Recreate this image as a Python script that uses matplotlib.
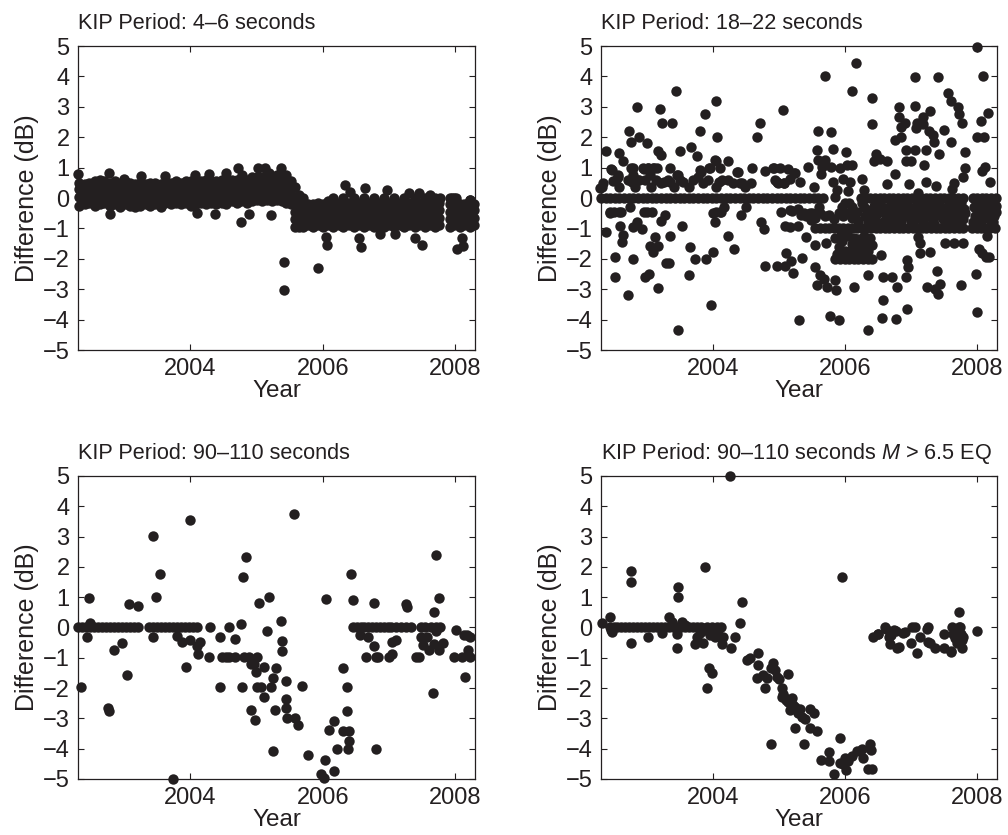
import matplotlib
matplotlib.use('Agg')
import matplotlib.pyplot as plt

plt.rcParams['font.family'] = ['Liberation Sans', 'DejaVu Sans']
plt.rcParams['mathtext.fontset'] = 'custom'
plt.rcParams['mathtext.rm'] = 'Liberation Sans'
plt.rcParams['mathtext.it'] = 'Liberation Sans:italic'

INK = '#231f20'

titles = ['KIP Period: 4\u20136 seconds',
          'KIP Period: 18\u201322 seconds',
          'KIP Period: 90\u2013110 seconds',
          'KIP Period: 90\u2013110 seconds $M$ > 6.5 EQ']
year_ticks = [2004, 2006, 2008]
db_ticks = [-5, -4, -3, -2, -1, 0, 1, 2, 3, 4, 5]

# ---------------- panel 1: 4-6 s (dense bands read column by column)
p1_band_x = [2002.32, 2002.40, 2002.47, 2002.55, 2002.63, 2002.70, 2002.78, 2002.86,
             2002.93, 2003.01, 2003.09, 2003.16, 2003.24, 2003.32, 2003.39, 2003.47,
             2003.55, 2003.62, 2003.70, 2003.78, 2003.85, 2003.93, 2004.01, 2004.08,
             2004.16, 2004.24, 2004.31, 2004.39, 2004.47, 2004.54, 2004.62, 2004.70,
             2004.77, 2004.85, 2004.93, 2005.00, 2005.08, 2005.16, 2005.23, 2005.31,
             2005.38, 2005.45, 2005.52, 2005.58, 2005.64]
p1_band_y = [[-0.25, 0.05, 0.3, 0.5], [-0.2, 0.0, 0.25, 0.45], [-0.15, 0.1, 0.35, 0.5],
             [-0.25, 0.0, 0.3, 0.55], [-0.2, 0.05, 0.3, 0.6], [-0.15, 0.1, 0.35, 0.55],
             [-0.25, 0.0, 0.25, 0.5], [-0.2, 0.05, 0.3, 0.55], [-0.3, -0.05, 0.2, 0.45],
             [-0.2, 0.05, 0.3, 0.55], [-0.25, 0.0, 0.25, 0.5], [-0.3, -0.05, 0.2, 0.45],
             [-0.25, 0.05, 0.3, 0.5], [-0.2, 0.0, 0.25, 0.45], [-0.25, 0.05, 0.3, 0.5],
             [-0.2, 0.05, 0.3, 0.5], [-0.3, 0.0, 0.25, 0.45], [-0.15, 0.1, 0.3, 0.5],
             [-0.2, 0.05, 0.3, 0.5], [-0.15, 0.1, 0.35, 0.55], [-0.2, 0.05, 0.3, 0.5],
             [-0.15, 0.1, 0.35, 0.55], [-0.25, 0.05, 0.3, 0.55], [-0.2, 0.1, 0.35, 0.6],
             [-0.15, 0.1, 0.35, 0.55], [-0.2, 0.05, 0.3, 0.6], [-0.15, 0.1, 0.35, 0.55],
             [-0.2, 0.05, 0.3, 0.55], [-0.15, 0.1, 0.35, 0.6], [-0.2, 0.05, 0.3, 0.55],
             [-0.1, 0.15, 0.4, 0.6], [-0.15, 0.1, 0.35, 0.6], [-0.1, 0.15, 0.4, 0.65],
             [-0.15, 0.1, 0.35, 0.6], [-0.1, 0.15, 0.4, 0.7], [-0.05, 0.2, 0.45, 0.7],
             [-0.1, 0.15, 0.4, 0.7], [-0.05, 0.2, 0.45, 0.75], [-0.1, 0.2, 0.45, 0.7],
             [-0.05, 0.2, 0.45, 0.75], [-0.1, 0.15, 0.4, 0.7], [-0.15, 0.1, 0.35, 0.6, 0.75],
             [-0.2, 0.05, 0.3, 0.55], [-0.95, -0.7, -0.45, -0.2, 0.05, 0.35],
             [-0.95, -0.7, -0.45, -0.2, 0.1]]
p1_low_x = [2005.70, 2005.78, 2005.85, 2005.93, 2006.01, 2006.08, 2006.16, 2006.24,
            2006.31, 2006.39, 2006.47, 2006.54, 2006.62, 2006.70, 2006.77, 2006.85,
            2006.93, 2007.00, 2007.08, 2007.16, 2007.23, 2007.31, 2007.39, 2007.46,
            2007.54, 2007.62, 2007.69, 2007.76, 2007.92, 2007.99, 2008.07, 2008.14,
            2008.22, 2008.29]
p1_low_y = [[-0.95, -0.7, -0.45, -0.2, 0.0], [-0.9, -0.65, -0.4, -0.2], [-0.95, -0.7, -0.45, -0.2],
            [-0.9, -0.65, -0.4, -0.15], [-0.95, -0.7, -0.45, -0.2], [-0.9, -0.65, -0.4, -0.1],
            [-0.95, -0.7, -0.45, -0.2, 0.0], [-0.9, -0.65, -0.4, -0.15], [-0.95, -0.7, -0.45, -0.2, 0.0],
            [-0.9, -0.65, -0.4, -0.15], [-0.95, -0.7, -0.45, -0.2, 0.0], [-0.9, -0.65, -0.4, -0.15],
            [-0.95, -0.7, -0.45, -0.2, 0.0], [-0.9, -0.65, -0.4, -0.15], [-0.95, -0.7, -0.45, -0.2, 0.0],
            [-0.9, -0.65, -0.4, -0.15], [-0.95, -0.7, -0.45, -0.2, 0.0], [-0.9, -0.65, -0.4, -0.15],
            [-0.95, -0.7, -0.45, -0.2, 0.0], [-0.9, -0.65, -0.4, -0.15], [-0.95, -0.7, -0.45, -0.2, 0.0],
            [-0.9, -0.65, -0.4, -0.15], [-0.95, -0.7, -0.45, -0.2, 0.0], [-0.9, -0.65, -0.4, -0.15],
            [-0.95, -0.7, -0.45, -0.2, 0.0], [-0.9, -0.65, -0.4, -0.15], [-0.95, -0.7, -0.45, -0.2, 0.0],
            [-0.9, -0.65, -0.4, -0.15], [-0.95, -0.7, -0.45, -0.2, 0.0], [-0.9, -0.65, -0.4, -0.2, 0.0],
            [-0.95, -0.7, -0.45, -0.2], [-0.9, -0.65, -0.4, -0.2], [-0.95, -0.7, -0.45, -0.2, -0.05],
            [-0.9, -0.65, -0.4, -0.2]]
p1_points = [(2002.30, 0.80), (2002.79, -0.53), (2002.77, 0.83), (2003.00, 0.62), (2003.25, 0.73),
             (2003.61, 0.73), (2004.07, 0.77), (2004.10, -0.50), (2004.28, 0.79), (2004.37, -0.54),
             (2004.54, 0.83), (2004.72, 1.00), (2004.77, -0.78), (2004.78, 0.76), (2004.88, -0.54),
             (2005.02, 1.00), (2005.12, 1.00), (2005.18, 0.82), (2005.22, -0.56), (2005.37, 1.00),
             (2005.42, -2.12), (2005.42, -3.02), (2005.93, -2.30), (2006.05, -1.28), (2006.07, -1.53),
             (2006.33, 0.43), (2006.41, 0.20), (2006.58, -1.60), (2006.55, -1.33), (2006.64, 0.32),
             (2006.87, -1.18), (2006.97, 0.26), (2007.09, -1.18), (2007.31, 0.17), (2007.40, -1.30),
             (2007.45, 0.17), (2007.50, -1.55), (2007.62, 0.10), (2007.77, 0.00), (2007.95, 0.00),
             (2008.01, 0.00), (2008.03, -1.68), (2008.11, -1.30), (2008.12, -1.58), (2008.22, -0.07)]

# ---------------- panel 2: 18-22 s
p2_zero_x = [2002.30, 2002.37, 2002.44, 2002.51, 2002.58, 2002.65, 2002.72, 2002.79, 2002.86,
             2002.93, 2003.00, 2003.07, 2003.14, 2003.21, 2003.28, 2003.35, 2003.42, 2003.49,
             2003.56, 2003.63, 2003.70, 2003.77, 2003.84, 2003.91, 2003.98, 2004.05, 2004.12,
             2004.19, 2004.26, 2004.33, 2004.40, 2004.47, 2004.54, 2004.61, 2004.68, 2004.75,
             2004.82, 2004.89, 2004.96, 2005.03, 2005.10, 2005.17, 2005.24, 2005.31, 2005.38,
             2005.45, 2005.52, 2005.59, 2005.66,
             2006.24, 2006.31, 2006.38, 2006.45, 2006.52, 2006.59, 2006.66, 2006.73, 2006.80,
             2006.87, 2006.94, 2007.01, 2007.08, 2007.15, 2007.22, 2007.29, 2007.36, 2007.43,
             2007.50, 2007.57, 2007.64, 2007.71, 2007.78, 2007.93, 2008.00, 2008.07, 2008.14,
             2008.21, 2008.28]
p2_minus1_x = [2005.55, 2005.62, 2005.69, 2005.76, 2005.83, 2005.90, 2005.97, 2006.04, 2006.11,
               2006.18, 2006.25, 2006.32, 2006.39, 2006.46, 2006.53, 2006.60, 2006.67, 2006.74,
               2006.81, 2006.88, 2006.95, 2007.02, 2007.09, 2007.16, 2007.23, 2007.30, 2007.37,
               2007.44, 2007.51, 2007.58, 2007.65, 2007.72, 2007.79, 2007.92, 2007.99, 2008.06,
               2008.13, 2008.20, 2008.27]
p2_minus2_x = [2005.85, 2005.92, 2005.99, 2006.06, 2006.13, 2006.20, 2006.27, 2006.34, 2006.41]
p2_points = [
    (2002.29, 0.32), (2002.33, 0.48), (2002.38, 1.55), (2002.37, -1.13), (2002.45, 0.94),
    (2002.44, -0.50), (2002.51, -2.59), (2002.52, -1.93), (2002.53, 0.59), (2002.56, 0.76),
    (2002.58, -0.45), (2002.58, 1.47), (2002.59, -0.92), (2002.63, 1.23), (2002.63, -1.22),
    (2002.62, -1.44), (2002.71, -3.19), (2002.72, 2.21), (2002.75, 1.85), (2002.74, -0.29),
    (2002.77, 0.54), (2002.79, 0.98), (2002.79, -0.94), (2002.79, -2.02), (2002.84, 2.98),
    (2002.85, -0.78), (2002.87, 2.02), (2002.87, 0.59), (2002.92, -1.03), (2002.95, -0.47),
    (2002.95, 0.94), (2002.96, -2.59), (2002.99, 1.80), (2003.01, 0.98), (2003.03, -2.50),
    (2003.05, -1.58), (2003.07, -0.47), (2003.09, -1.77), (2003.10, 0.98), (2003.12, -1.27),
    (2003.15, 0.98), (2003.16, -1.58), (2003.17, -2.95), (2003.17, 1.56), (2003.20, 2.92),
    (2003.21, 1.41), (2003.21, -0.75), (2003.23, 2.46), (2003.25, 0.54), (2003.27, -0.56),
    (2003.28, -2.15), (2003.33, -2.13), (2003.35, 0.54), (2003.35, 0.98), (2003.35, -1.24),
    (2003.37, 2.46), (2003.44, 3.53), (2003.45, 0.76), (2003.46, -4.34), (2003.49, 1.56),
    (2003.53, -0.92), (2003.55, 0.54), (2003.64, -2.53), (2003.65, -1.60), (2003.67, 1.67),
    (2003.72, -2.02), (2003.75, 1.39), (2003.80, 2.21), (2003.81, 0.87), (2003.87, 2.76),
    (2003.89, -2.02), (2003.92, 0.59), (2003.94, 0.98), (2003.97, -3.52), (2004.00, -1.79),
    (2004.00, -0.50), (2004.03, -0.78), (2004.05, 3.20), (2004.05, 1.22), (2004.06, 2.02),
    (2004.09, 0.54), (2004.11, 0.98), (2004.11, -0.45), (2004.16, -0.31), (2004.22, 1.23),
    (2004.22, -1.25), (2004.31, -1.69), (2004.36, 0.87), (2004.42, -0.56), (2004.43, 0.50),
    (2004.50, -0.29), (2004.57, 0.48), (2004.59, 0.98), (2004.66, 2.00), (2004.71, 2.46),
    (2004.72, -0.78), (2004.77, -1.03), (2004.78, -2.24), (2004.79, 0.90), (2004.92, 0.98),
    (2004.96, -2.24), (2004.97, 0.54), (2005.01, 0.98), (2005.03, -0.47), (2005.06, 2.89),
    (2005.07, 0.50), (2005.09, -2.24), (2005.09, -0.92), (2005.11, -1.82), (2005.13, 0.94),
    (2005.16, -0.94), (2005.18, -2.07), (2005.20, -0.42), (2005.21, -2.48), (2005.24, 0.81),
    (2005.28, -0.37), (2005.29, -0.92), (2005.30, -4.01), (2005.31, 0.54), (2005.35, -1.98),
    (2005.38, -0.50), (2005.41, -1.27), (2005.44, 1.03), (2005.48, -0.72), (2005.50, -0.50),
    (2005.53, 0.37), (2005.54, -2.26), (2005.55, -1.55), (2005.57, -2.86), (2005.58, 1.58),
    (2005.59, 2.21), (2005.59, 1.25), (2005.62, -2.53), (2005.63, 0.79), (2005.65, 1.03),
    (2005.68, -2.66), (2005.70, 4.01), (2005.70, 1.25), (2005.71, -1.47), (2005.73, -2.94),
    (2005.77, -3.88), (2005.78, 1.03), (2005.79, 2.18), (2005.81, 1.61), (2005.82, 0.54),
    (2005.84, 0.02), (2005.84, -2.70), (2005.86, -3.03), (2005.88, 0.26), (2005.90, -4.01),
    (2005.92, 0.98), (2005.97, 0.62), (2005.99, -0.18), (2006.01, 1.52), (2006.03, 1.09),
    (2006.04, 0.24), (2006.06, -0.18), (2006.08, 0.54), (2006.10, 1.09), (2006.11, 3.53),
    (2006.14, -2.94), (2006.17, 4.43), (2006.26, 0.61), (2006.29, 0.26), (2006.34, -4.34),
    (2006.34, -2.53), (2006.40, 3.28), (2006.41, 2.43), (2006.44, 1.23), (2006.47, 1.45),
    (2006.52, 1.27), (2006.54, -1.88), (2006.55, -3.96), (2006.58, -3.36), (2006.58, -2.61),
    (2006.63, 1.23), (2006.63, 0.46), (2006.71, -2.59), (2006.75, 0.79), (2006.77, -3.99),
    (2006.75, 1.91), (2006.78, -2.94), (2006.81, 2.98), (2006.81, 2.68), (2006.84, 2.02),
    (2006.85, 2.32), (2006.90, 2.46), (2006.92, 1.58), (2006.92, 1.23), (2006.92, -2.59),
    (2006.93, -3.66), (2006.94, -2.04), (2006.95, -2.26), (2006.97, 0.46), (2006.99, 1.23),
    (2007.05, 3.99), (2007.06, 3.03), (2007.06, 1.58), (2007.07, 2.29), (2007.09, 2.46),
    (2007.10, -1.27), (2007.11, 0.18), (2007.13, -1.49), (2007.14, -1.82), (2007.18, 2.43),
    (2007.18, 2.68), (2007.20, 1.09), (2007.22, 0.52), (2007.22, 1.58), (2007.27, 2.21),
    (2007.29, -1.79), (2007.29, 2.87), (2007.24, -2.92), (2007.33, 2.07), (2007.35, 1.85),
    (2007.36, -3.00), (2007.37, 0.39), (2007.40, 3.99), (2007.41, -3.16), (2007.42, 1.45),
    (2007.44, -2.83), (2007.39, -2.39), (2007.49, 2.24), (2007.51, -1.47), (2007.56, 3.44),
    (2007.60, 3.20), (2007.61, 1.85), (2007.62, 0.29), (2007.65, 0.50), (2007.65, -1.49),
    (2007.71, 2.98), (2007.72, 2.76), (2007.76, -2.86), (2007.77, 2.46), (2007.78, 0.68),
    (2007.79, -1.47), (2007.82, 1.52), (2007.81, 0.98), (2007.98, -2.50), (2007.99, -3.74),
    (2008.00, 4.98), (2008.00, 2.02), (2008.02, -1.69), (2008.06, 2.54), (2008.07, 0.90),
    (2008.08, -1.82), (2008.09, 4.01), (2008.10, 2.02), (2008.12, 1.03), (2008.14, -1.95),
    (2008.15, -1.25), (2008.17, 2.79), (2008.18, -1.93), (2008.19, 0.54), (2008.20, -0.31),
    # crowded strip just above and below the zero line
    (2002.32, 0.37), (2002.46, 0.92), (2002.48, 0.55), (2002.56, 0.70), (2002.57, 0.37),
    (2002.71, 0.59), (2002.76, 0.98), (2002.78, 0.75), (2002.81, 0.37), (2002.86, 0.59),
    (2002.94, 0.98), (2003.02, 0.98), (2003.09, 0.98), (2002.96, 0.59), (2003.04, 0.75),
    (2003.06, 0.37), (2003.14, 0.59), (2003.21, 0.48), (2003.32, 0.59), (2003.40, 0.37),
    (2003.47, 0.75), (2003.50, 0.59), (2003.63, 0.37), (2003.69, 0.59), (2003.77, 0.70),
    (2003.80, 0.92), (2003.85, 0.48), (2003.95, 0.98), (2004.02, 1.26), (2004.05, 0.37),
    (2004.13, 0.59), (2004.23, 0.59), (2004.30, 0.48), (2004.38, 0.87), (2004.40, 0.48),
    (2004.48, 0.37), (2004.91, 0.98), (2004.93, 0.59), (2004.98, 0.48), (2005.08, 0.48),
    (2005.16, 0.64), (2005.23, 0.81), (2002.43, -0.46), (2002.50, -0.46), (2002.60, -0.46),
    (2003.00, -0.46), (2004.05, -0.46), (2004.12, -0.46), (2005.16, -0.40),
    # rows between -1 and 0 after 2005.3
    (2005.33, -0.55), (2005.40, -0.60), (2005.47, -0.50), (2005.55, -0.65), (2005.62, -0.50),
    (2005.69, -0.60), (2005.76, -0.55), (2005.83, -0.70), (2005.90, -0.50), (2005.97, -0.60),
    (2006.04, -0.50), (2006.11, -0.65), (2006.18, -0.45), (2005.60, -0.30), (2005.95, -0.30),
    (2006.10, -0.30), (2006.20, -0.75),
    (2006.28, -0.30), (2006.30, -0.60), (2006.35, -0.80), (2006.38, -0.45), (2006.43, -0.25),
    (2006.45, -0.70), (2006.50, -0.50), (2006.55, -0.30), (2006.57, -0.80), (2006.62, -0.55),
    (2006.66, -0.30), (2006.70, -0.70), (2006.73, -0.45), (2006.78, -0.25), (2006.80, -0.60),
    (2006.85, -0.80), (2006.88, -0.40), (2006.92, -0.60), (2006.97, -0.30), (2007.00, -0.75),
    (2007.03, -0.50), (2007.08, -0.25), (2007.10, -0.65), (2007.15, -0.45), (2007.18, -0.80),
    (2007.22, -0.30), (2007.25, -0.60), (2007.30, -0.45), (2007.33, -0.75), (2007.37, -0.25),
    (2007.40, -0.55), (2007.45, -0.35), (2007.48, -0.70), (2007.52, -0.50), (2007.56, -0.25),
    (2007.60, -0.65), (2007.63, -0.40), (2007.67, -0.80), (2007.70, -0.30), (2007.74, -0.55),
    (2007.78, -0.70), (2007.80, -0.35), (2007.95, -0.30), (2007.97, -0.60), (2008.02, -0.45),
    (2008.05, -0.75), (2008.10, -0.30), (2008.13, -0.55), (2008.18, -0.70), (2008.22, -0.40),
    (2008.26, -0.60), (2008.29, -0.25),
    (2006.26, -0.15), (2006.33, -0.40), (2006.40, -0.65), (2006.47, -0.85), (2006.53, -0.15),
    (2006.60, -0.40), (2006.64, -0.70), (2006.69, -0.15), (2006.76, -0.85), (2006.83, -0.40),
    (2006.90, -0.15), (2006.95, -0.50), (2007.02, -0.85), (2007.06, -0.40), (2007.12, -0.15),
    (2007.17, -0.60), (2007.20, -0.85), (2007.27, -0.15), (2007.32, -0.60), (2007.35, -0.85),
    (2007.42, -0.15), (2007.47, -0.50), (2007.54, -0.85), (2007.58, -0.40), (2007.62, -0.15),
    (2007.68, -0.55), (2007.72, -0.85), (2007.76, -0.15), (2007.82, -0.50), (2007.93, -0.80),
    (2008.00, -0.20), (2008.08, -0.55), (2008.16, -0.20), (2008.24, -0.80), (2008.28, -0.45),
    # cluster between -2 and -1 around 2006
    (2005.85, -1.30), (2005.90, -1.60), (2005.95, -1.40), (2006.00, -1.75), (2006.05, -1.25),
    (2006.10, -1.50), (2006.15, -1.80), (2006.20, -1.35), (2006.25, -1.60), (2006.30, -1.45),
    (2006.35, -1.75), (2006.40, -1.55), (2006.02, -1.90), (2006.18, -1.65), (2005.88, -1.85),
    (2005.93, -1.20), (2006.08, -1.75), (2006.13, -1.30), (2006.23, -1.85), (2006.28, -1.25),
    (2006.38, -1.30), (2006.33, -1.55)]

# ---------------- panel 3: 90-110 s
p3_zero_x = [2002.30, 2002.36, 2002.42, 2002.48, 2002.54, 2002.60, 2002.66, 2002.72, 2002.78,
             2002.84, 2002.90, 2002.96, 2003.02, 2003.08, 2003.14, 2003.20, 2003.38, 2003.44,
             2003.50, 2003.56, 2003.62, 2003.68, 2003.74, 2003.80, 2003.86, 2003.92, 2003.98,
             2004.04, 2004.10, 2004.29, 2004.58, 2006.45, 2006.51, 2006.57, 2006.63, 2006.69,
             2006.75, 2006.81, 2006.87, 2006.93, 2006.99, 2007.03, 2007.11, 2007.18, 2007.25,
             2007.33, 2007.49, 2007.54, 2007.64, 2007.71, 2007.77]
p3_points = [
    (2002.35, -1.98), (2002.46, 0.98), (2002.44, -0.33), (2002.48, 0.14), (2002.76, -2.66),
    (2002.77, -2.75), (2002.84, -0.76), (2002.96, -0.52), (2003.04, -1.56), (2003.07, 0.76),
    (2003.21, 0.71), (2003.44, 3.02), (2003.48, 1.02), (2003.54, 1.75), (2003.44, -0.30),
    (2003.73, -5.00), (2003.79, -0.27), (2003.87, -0.47), (2003.93, -1.31), (2003.99, 3.54),
    (2003.99, -0.43), (2004.10, -0.60), (2004.11, -0.88), (2004.15, -0.47), (2004.28, -0.98),
    (2004.44, -1.98), (2004.44, -0.33), (2004.48, -0.98), (2004.53, -0.98), (2004.58, -0.98),
    (2004.68, -0.38), (2004.68, -0.98), (2004.77, 0.12), (2004.78, -1.98), (2004.79, 1.65),
    (2004.81, -0.98), (2004.84, 2.33), (2004.88, -0.98), (2004.91, -2.72), (2004.92, -1.21),
    (2004.96, -1.21), (2004.98, -3.05), (2004.99, -1.46), (2005.01, -0.98), (2005.01, -1.98),
    (2005.04, 0.82), (2005.06, -1.98), (2005.11, -2.28), (2005.11, -1.31), (2005.16, -0.12),
    (2005.19, 1.02), (2005.22, -1.98), (2005.24, -1.67), (2005.25, -4.07), (2005.27, -2.74),
    (2005.29, -1.34), (2005.37, 0.22), (2005.39, -0.44), (2005.38, -0.77), (2005.45, -1.76),
    (2005.45, -2.37), (2005.45, -2.66), (2005.46, -2.99), (2005.56, 3.76), (2005.58, -2.99),
    (2005.63, -3.21), (2005.69, -1.94), (2005.78, -4.22), (2005.98, -4.82), (2006.02, -4.97),
    (2006.03, -4.36), (2006.05, 0.93), (2006.10, -3.38), (2006.17, -3.10), (2006.17, -4.75),
    (2006.22, -4.00), (2006.31, -1.34), (2006.31, -3.41), (2006.36, -1.98), (2006.36, -2.77),
    (2006.38, -4.00), (2006.39, -3.41), (2006.40, -3.74), (2006.42, 1.76), (2006.45, 0.91),
    (2006.56, -0.25), (2006.66, -0.98), (2006.68, -0.33), (2006.78, -0.61), (2006.78, 0.80),
    (2006.80, -0.98), (2006.81, -4.00), (2006.84, -0.98), (2007.00, -0.98), (2007.04, -0.88),
    (2007.05, -0.47), (2007.11, -0.43), (2007.26, 0.76), (2007.27, 0.66), (2007.41, -0.98),
    (2007.46, -0.98), (2007.49, -0.33), (2007.52, -0.58), (2007.58, -0.33), (2007.60, -0.74),
    (2007.66, -2.17), (2007.68, 0.50), (2007.68, -0.55), (2007.71, 2.39), (2007.76, 0.96),
    (2007.71, -0.12), (2007.76, -0.74), (2007.81, -0.52), (2007.98, -0.98), (2008.02, -0.08),
    (2008.10, -0.98), (2008.13, -0.25), (2008.15, -1.62), (2008.18, -0.25), (2008.20, -0.74),
    (2008.23, -0.33), (2008.23, -0.98)]

# ---------------- panel 4: 90-110 s, M > 6.5 events
p4_zero_x = [2002.43, 2002.49, 2002.55, 2002.61, 2002.67, 2002.73, 2002.79, 2002.85, 2002.91,
             2002.97, 2003.03, 2003.09, 2003.15, 2003.21, 2003.27, 2003.33, 2003.39, 2003.45,
             2003.51, 2003.57, 2003.63, 2003.69, 2003.75, 2003.82, 2003.90, 2003.98, 2004.06,
             2004.12]
p4_points = [
    (2002.31, 0.15), (2002.44, 0.35), (2002.46, -0.15), (2002.45, -0.08), (2002.76, 1.85),
    (2002.76, 1.50), (2002.75, -0.50), (2003.01, -0.31), (2003.22, -0.17), (2003.33, 0.35),
    (2003.37, 0.18), (2003.46, 1.33), (2003.46, 1.00), (2003.45, -0.67), (2003.45, -0.20),
    (2003.53, 0.18), (2003.58, 0.07), (2003.72, -0.55), (2003.75, -0.31), (2003.80, -0.17),
    (2003.84, -0.50), (2003.88, 2.00), (2003.94, -1.35), (2003.98, -1.50), (2003.90, -2.01),
    (2003.95, -0.26), (2004.02, -0.31), (2004.05, -0.15), (2004.10, -0.31), (2004.13, -0.53),
    (2004.15, -0.31), (2003.92, -0.12), (2004.00, -0.20), (2004.08, -0.10), (2004.25, 5.00),
    (2004.27, -0.67), (2004.33, -0.33), (2004.44, 0.84), (2004.40, 0.15), (2004.51, -1.08),
    (2004.56, -1.02), (2004.68, -0.84), (2004.68, -1.24), (2004.66, -1.66), (2004.78, -2.01),
    (2004.76, -1.57), (2004.81, -1.68), (2004.88, -3.85), (2004.90, -1.17), (2004.93, -1.41),
    (2004.96, -1.63), (2004.87, -1.35), (2005.00, -1.71), (2005.04, -2.01), (2005.04, -2.28),
    (2005.13, -1.52), (2005.09, -2.34), (2005.14, -2.45), (2005.19, -2.34), (2005.16, -2.72),
    (2005.24, -2.61), (2005.24, -3.33), (2005.29, -2.83), (2005.34, -2.94), (2005.37, -3.85),
    (2005.39, -3.03), (2005.46, -2.70), (2005.52, -2.83), (2005.47, -3.33), (2005.57, -3.43),
    (2005.11, -2.40), (2005.06, -2.20), (2005.21, -2.55), (2005.31, -2.70),
    (2005.64, -4.36), (2005.75, -4.12), (2005.76, -4.42), (2005.83, -4.82), (2005.92, -3.65),
    (2005.95, 1.66), (2005.92, -4.47), (2006.00, -4.31), (2006.01, -4.69), (2006.10, -4.23),
    (2006.18, -4.09), (2006.25, -4.01), (2006.27, -4.31), (2006.38, -3.84), (2006.39, -4.04),
    (2006.34, -4.67), (2006.40, -4.67), (2005.97, -4.50), (2006.05, -4.40),
    (2006.42, -0.33), (2006.49, -0.21), (2006.50, -0.20), (2006.61, 0.02), (2006.62, -0.04),
    (2006.66, -0.31), (2006.68, -0.53), (2006.69, -0.26), (2006.74, -0.09), (2006.77, -0.13),
    (2006.79, -0.69), (2006.81, -0.66), (2006.88, -0.17), (2006.90, -0.15), (2007.01, 0.00),
    (2007.05, 0.00), (2007.00, -0.51), (2007.09, -0.84), (2007.14, -0.31), (2007.24, -0.04),
    (2007.26, 0.00), (2007.26, -0.48), (2007.28, -0.51), (2007.36, -0.69), (2007.49, -0.69),
    (2007.49, -0.20), (2007.60, -0.77), (2007.61, -0.81), (2007.62, 0.02), (2007.64, -0.20),
    (2007.72, 0.51), (2007.73, 0.00), (2007.74, 0.02), (2007.77, -0.42), (2007.79, -0.31),
    (2007.77, -0.69), (2007.72, -0.31), (2007.66, -0.35), (2007.70, -0.50), (2007.75, -0.20),
    (2007.68, -0.10), (2007.99, -0.11)]


def columns(xs, ys):
    px, py = [], []
    for x, col in zip(xs, ys):
        for y in col:
            px.append(x)
            py.append(y)
    return px, py


def dots(ax, xs, ys):
    ax.plot(xs, ys, 'o', ms=7.5, mfc=INK, mec='none', clip_on=False, zorder=3)


fig = plt.figure(figsize=(10.08, 8.35), dpi=100)
ax1 = fig.add_axes([0.0774, 0.5808, 0.3938, 0.3641])
ax2 = fig.add_axes([0.5962, 0.5808, 0.3929, 0.3641])
ax3 = fig.add_axes([0.0774, 0.0671, 0.3938, 0.3629])
ax4 = fig.add_axes([0.5962, 0.0671, 0.3929, 0.3629])

x, y = columns(p1_band_x, p1_band_y)
dots(ax1, x, y)
x, y = columns(p1_low_x, p1_low_y)
dots(ax1, x, y)
dots(ax1, [p[0] for p in p1_points], [p[1] for p in p1_points])

dots(ax2, p2_zero_x, [0] * len(p2_zero_x))
dots(ax2, p2_minus1_x, [-1] * len(p2_minus1_x))
dots(ax2, p2_minus2_x, [-2] * len(p2_minus2_x))
dots(ax2, [p[0] for p in p2_points], [p[1] for p in p2_points])

dots(ax3, p3_zero_x, [0] * len(p3_zero_x))
dots(ax3, [p[0] for p in p3_points], [p[1] for p in p3_points])

dots(ax4, p4_zero_x, [0] * len(p4_zero_x))
dots(ax4, [p[0] for p in p4_points], [p[1] for p in p4_points])

for ax, t in zip([ax1, ax2, ax3, ax4], titles):
    ax.set_xlim(2002.3, 2008.3)
    ax.set_ylim(-5, 5)
    ax.set_xticks(year_ticks)
    ax.set_xticklabels([str(v) for v in year_ticks])
    ax.set_yticks(db_ticks)
    ax.tick_params(direction='in', top=True, right=True, labelsize=17,
                   length=4.5, width=0.8, color=INK, labelcolor=INK, pad=6)
    for s in ax.spines.values():
        s.set_linewidth(0.9)
        s.set_color(INK)
    ax.set_xlabel('Year', fontsize=17.5, color=INK, labelpad=0)
    ax.set_ylabel('Difference (dB)', fontsize=18, color=INK, labelpad=3)
    ax.set_title(t, loc='left', fontsize=15.6, color=INK, pad=12)

fig.savefig('out.png', dpi=100)
